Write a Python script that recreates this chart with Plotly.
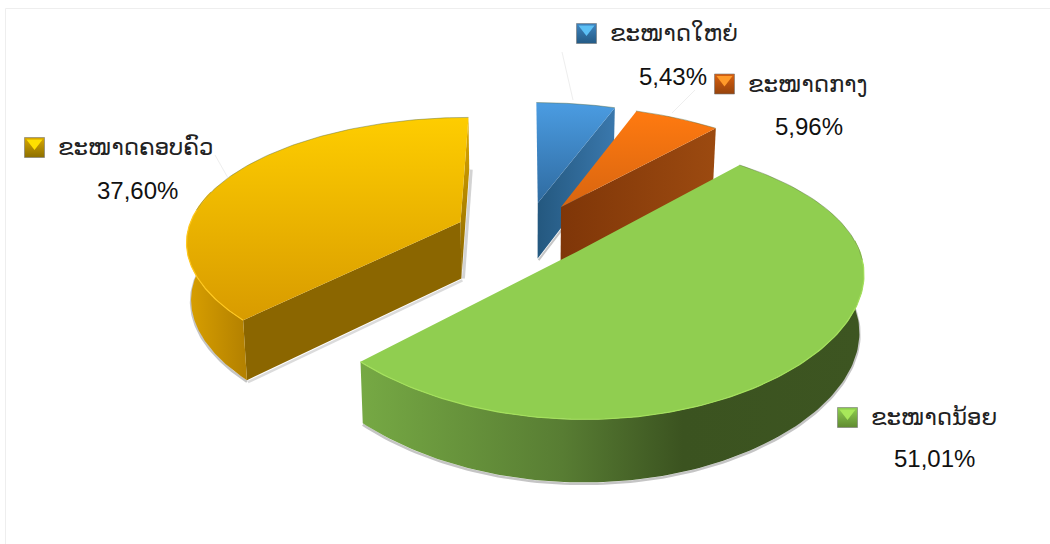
import numpy as np
import plotly.graph_objects as go

# --- data -------------------------------------------------------------
categories = ["ຂະໜາດໃຫຍ່", "ຂະໜາດກາງ", "ຂະໜາດນ້ອຍ", "ຂະໜາດຄອບຄົວ"]
values = [5.43, 5.96, 51.01, 37.60]

# --- styling per slice ---------------------------------------------------
top_colors = [("#4b9ce2", "#2f6ba0"), ("#ff7a10", "#d86510"), ("#90ce50", "#90ce50"), ("#fecd00", "#d89b00")]
end_wall = [("#24587f", "#3a78ad"), ("#7f3608", "#9c4a10"), None, None]
rim = [None, None, "#a4e05c", "#ffc81e"]
key_colors = [("#5cc0f5", "#3f85c0", "#235a85"), ("#ff9a2a", "#d9600f", "#96430c"),
              ("#a8e85a", "#8fcf50", "#5f8a30"), ("#ffe000", "#d9a800", "#8c6f00")]
key_pos = [(586.5, 33.5), (724.5, 84), (847.5, 417.5), (34.5, 147.5)]
label_pos = [(608, 33), (746, 84), (869, 417), (56, 147)]
value_pos = [(673, 76), (809, 126), (934, 458), (137, 190)]
leader = [((562, 52), (573, 100)), ((695, 90), (672, 113)), None, ((215, 155), (228, 178))]

# --- 3-D projection parameters ------------------------------------------
OX, OY, A, B, P, P_NEAR = 526.0, 238.0, 275.0, 123.5, 0.14, 0.22
EX, EY = 0.262, 0.30     # explosion
EX_SCALE = [1, 1, 0.94, 1]
EY_SCALE = [1, 1, 0.54, 1.15]
RX_SCALE = [1, 1, 1.015, 1]
H, K = 57.0, 0.0135      # depth and perspective shrink of the base


def project(X, Y, base=False):
    X, Y = np.asarray(X, float), np.asarray(Y, float)
    s = 1.0 / (1.0 + P * Y)
    sy = np.where(Y < 0, 1.0 / (1.0 + P_NEAR * Y), s)
    x = OX + A * X * s
    y = OY - B * Y * sy
    if base:
        x = OX + (x - OX) * (1 - K)
        y = y + H * s ** 0.6
    return x, y


fig = go.Figure()


def poly(x, y, grad=None, color=None):
    kw = dict(x=np.r_[x, x[0]], y=np.r_[y, y[0]], mode="lines", fill="toself",
              line=dict(width=0), hoverinfo="skip", showlegend=False)
    if grad:
        kw["fillgradient"] = grad
    else:
        kw["fillcolor"] = color
    fig.add_trace(go.Scatter(**kw))


def line(x, y, color, width):
    fig.add_trace(go.Scatter(x=x, y=y, mode="lines", line=dict(color=color, width=width),
                             hoverinfo="skip", showlegend=False))


def hgrad(x0, x1, stops):
    return dict(type="horizontal", start=x0, stop=x1, colorscale=stops)


def vgrad(y0, y1, c0, c1):
    return dict(type="vertical", start=y0, stop=y1, colorscale=[[0, c0], [1, c1]])


edges = np.r_[0, np.cumsum(values)] / sum(values) * 360.0
slices = []
for i, v in enumerate(values):
    t0, t1 = np.radians(edges[i]), np.radians(edges[i + 1])
    mid = (t0 + t1) / 2
    slices.append((t0, t1, EX * EX_SCALE[i] * np.sin(mid), EY * EY_SCALE[i] * np.cos(mid), RX_SCALE[i]))


def disc(t, ex, ey, rx=1.0):
    return ex + rx * np.sin(t), ey + np.cos(t)


# draw back to front: blue, orange, yellow, green
for i in [0, 1, 3, 2]:
    t0, t1, ex, ey, rx = slices[i]
    ts = np.linspace(t0, t1, 120)
    ax, ay = disc(ts, ex, ey, rx)
    for t_edge, is_end in ((t0, False), (t1, True)):
        ox, oy = disc(t_edge, ex, ey, rx)
        px, py = np.array([ex, ox]), np.array([ey, oy])
        xt, yt = project(px, py)
        xb, yb = project(px, py, base=True)
        wx, wy = np.r_[xt, xb[::-1]], np.r_[yt, yb[::-1]]
        if i == 3 and not is_end:
            line(xb + 1, yb + 2, "rgba(110,110,110,0.25)", 2.5)
            poly(wx, wy, color="#8b6600")
        elif i == 3 and is_end:
            line(xb + 2, yb, "rgba(110,110,110,0.3)", 3)
            poly(wx, wy, grad=vgrad(yt.min(), yb.max(), "#e0ab00", "#876300"))
        elif is_end and end_wall[i]:
            line(xb + 1, yb + 1.5, "rgba(110,110,110,0.4)", 2)
            c0, c1 = end_wall[i]
            poly(wx, wy, grad=hgrad(wx.min(), wx.max(), [[0, c0], [1, c1]]))
    lo, hi = max(t0, np.radians(85)), min(t1, np.radians(285))
    if hi > lo:
        tw = np.linspace(lo, hi, 120)
        wx_, wy_ = disc(tw, ex, ey, rx)
        xt, yt = project(wx_, wy_)
        xb, yb = project(wx_, wy_, base=True)
        line(xb, yb + 1.5, "rgba(110,110,110,0.4)", 2.5)
        wx, wy = np.r_[xt, xb[::-1]], np.r_[yt, yb[::-1]]
        if i == 2:
            g = hgrad(wx.min(), wx.max(), [[0, "#76a944"], [0.4, "#587d33"], [0.64, "#3b5320"], [1, "#3d5521"]])
        else:
            g = hgrad(wx.min(), xt.max(), [[0, "#d9a000"], [1, "#b58200"]])
        poly(wx, wy, grad=g)
    xt, yt = project(np.r_[ex, ax], np.r_[ey, ay])
    c0, c1 = top_colors[i]
    if c0 == c1:
        poly(xt, yt, color=c0)
    else:
        poly(xt, yt, grad=vgrad(yt.min(), yt.max(), c0, c1))
    if rim[i]:
        hx, hy = project(*disc(np.linspace(lo, hi, 120), ex, ey, rx))
        line(hx, hy, rim[i], 1.2)
    far = ts[(ts < np.radians(95)) | (ts > np.radians(275))]
    if far.size:
        gx, gy = project(*disc(far, ex, ey, rx))
        line(gx, gy, "rgba(90,110,70,0.45)", 1)

# --- legend-like labels -------------------------------------------------
annotations = []
for i, cat in enumerate(categories):
    kx, ky = key_pos[i]
    c_hi, c_mid, c_lo = key_colors[i]
    fig.add_trace(go.Scatter(x=[kx], y=[ky], mode="markers", hoverinfo="skip", showlegend=False,
                             marker=dict(symbol="square", size=20, color=c_mid,
                                         gradient=dict(type="vertical", color=c_lo),
                                         line=dict(width=0.6, color="#777777"))))
    fig.add_trace(go.Scatter(x=[kx], y=[ky - 4.5], mode="markers", hoverinfo="skip", showlegend=False,
                             marker=dict(symbol="triangle-down", size=14, color=c_hi, line=dict(width=0))))
    lx, ly = label_pos[i]
    annotations.append(dict(x=lx, y=ly, xref="x", yref="y", text=cat, showarrow=False, xanchor="left",
                            yanchor="middle", font=dict(family="DejaVu Sans", size=22.8, color="#222222")))
    vx, vy = value_pos[i]
    annotations.append(dict(x=vx, y=vy, xref="x", yref="y", text=f"{values[i]:.2f}%".replace(".", ","),
                            showarrow=False, xanchor="center", yanchor="middle",
                            font=dict(family="Liberation Sans", size=24, color="#111111")))
    if leader[i]:
        (x0, y0), (x1, y1) = leader[i]
        line([x0, x1], [y0, y1], "#eeeeee", 1)

fig.update_layout(
    width=1050, height=544, margin=dict(l=0, r=0, t=0, b=0),
    paper_bgcolor="white", plot_bgcolor="white", annotations=annotations,
    xaxis=dict(range=[0, 1050], visible=False, fixedrange=True),
    yaxis=dict(range=[544, 0], visible=False, fixedrange=True),
    shapes=[
        dict(type="line", xref="x", yref="y", x0=5.5, x1=5.5, y0=8.5, y1=544, line=dict(color="#eeeeee", width=1)),
        dict(type="line", xref="x", yref="y", x0=5.5, x1=1050, y0=8.5, y1=8.5, line=dict(color="#eeeeee", width=1)),
    ],
)
fig.write_html("out.html", config=dict(displayModeBar=False),
               post_script="document.body.style.margin='0';document.body.style.overflow='hidden';")
